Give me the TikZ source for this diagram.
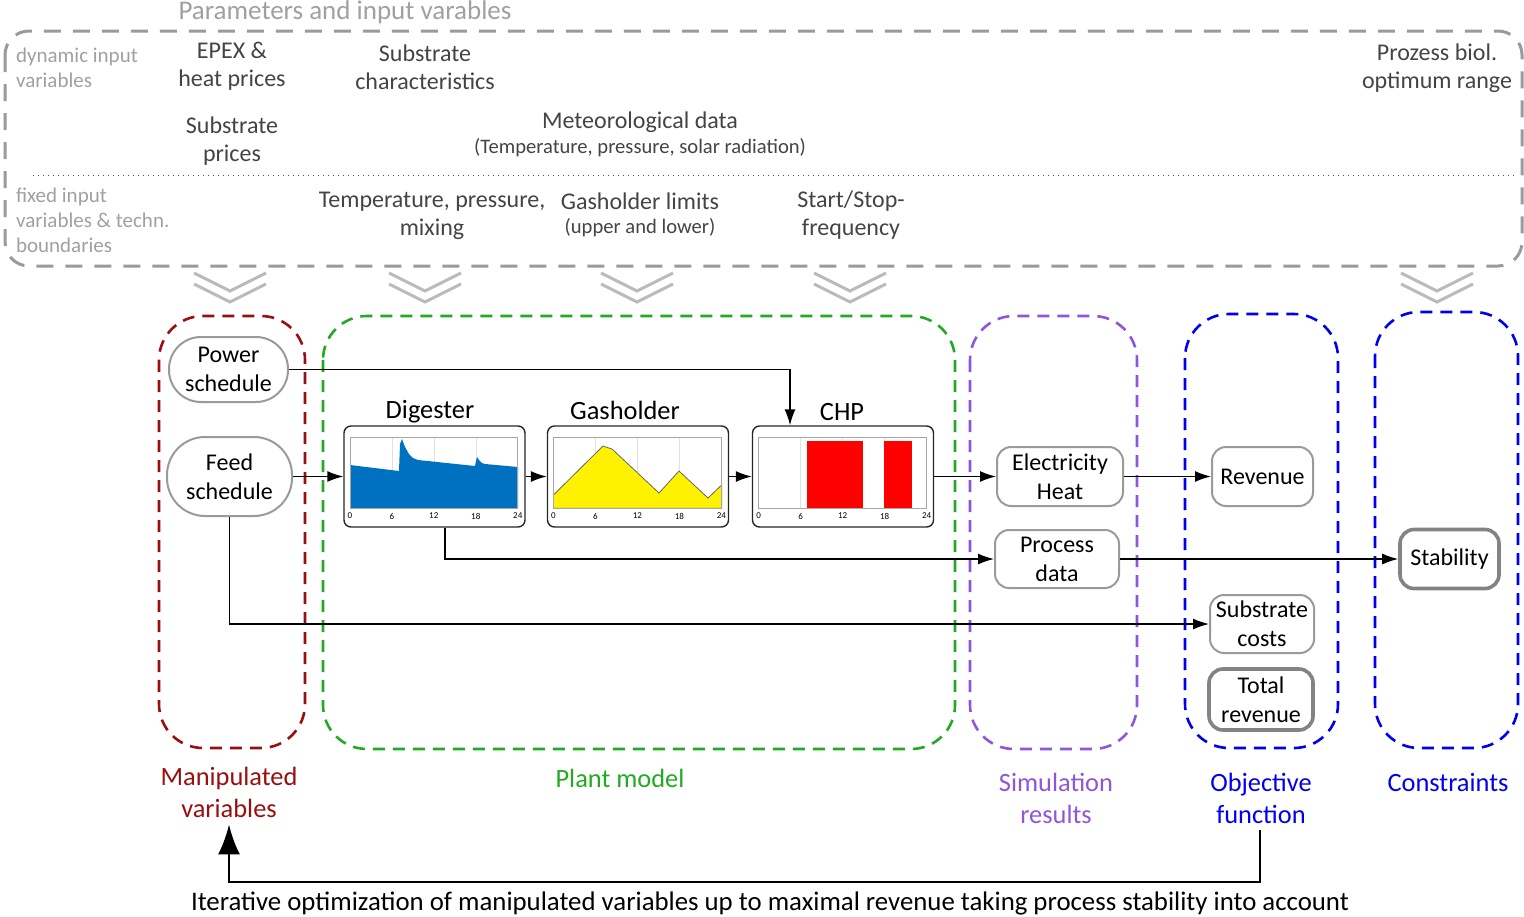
\documentclass[tikz,border=0pt]{standalone}
\usepackage{fontspec}
\setmainfont{Carlito}
\usepackage{tikz}
\usetikzlibrary{positioning, arrows.meta}

\definecolor{boxgray}{HTML}{9A9A9A}
\definecolor{txtgray}{HTML}{444444}
\definecolor{lightgray}{HTML}{A0A0A0}
\definecolor{chevgray}{HTML}{BBBBBB}
\definecolor{manipred}{HTML}{990F0F}
\definecolor{plantgreen}{HTML}{22AA22}
\definecolor{simpurple}{HTML}{8E55DD}
\definecolor{objblue}{HTML}{0000EE}
\definecolor{digblue}{HTML}{0070C0}

\newcommand\fnode{\fontsize{12}{14.5}\selectfont}
\newcommand\ftop{\fontsize{12}{14}\selectfont}
\newcommand\fside{\fontsize{10.5}{12.5}\selectfont}
\newcommand\fsub{\fontsize{10.3}{11}\selectfont}
\newcommand\fgroup{\fontsize{13.2}{16}\selectfont}
\newcommand\flabel{\fontsize{13.2}{14}\selectfont}
\newcommand\ftick{\fontsize{4.5}{5}\selectfont}

\begin{document}
\begin{tikzpicture}[x=0.5pt, y=-0.5pt,
  Arr/.style={-{Latex[length=8pt,width=5.5pt]}, line width=0.7pt},
  FB/.style={-{Latex[length=15pt,width=11pt]}, line width=1.4pt},
  Res/.style={draw=boxgray, line width=1pt, rounded corners=7pt, align=center,
    font=\fnode, inner sep=1pt},
  Pill/.style={Res, rounded corners=16pt},
  Chart/.style={draw=black!85, line width=0.7pt, rounded corners=3.5pt,
    minimum width=90.5pt, minimum height=50.5pt},
  Group/.style={dashed, line width=1.3pt, rounded corners=22pt,
    dash pattern=on 6pt off 4pt},
  Top/.style={text=txtgray, align=center, font=\ftop},
  Side/.style={text=lightgray, align=left, font=\fside, anchor=north west},
  chev/.style={chevgray, line width=1.5pt},
  frame/.style={draw=black!35, line width=0.3pt},
  grid/.style={draw=black!12, line width=0.3pt},
  tick/.style={font=\ftick, inner sep=0pt}]
  \useasboundingbox (0,0) rectangle (1524,916);

  % parameters and input variables
  \node[text=lightgray, font=\fontsize{13.5}{15}\selectfont] (partitle) at (345,12) {Parameters and input varables};
  \draw[boxgray, line width=1.5pt, dash pattern=on 8.5pt off 6pt, rounded corners=12pt]
    (5,31) rectangle (1522,266);
  \draw[dotted, black!70, line width=0.5pt] (33,175) -- (1517,175);
  \node[Side] (dyn) at (9,41) {dynamic input\\variables};
  \node[Side] (fix) at (9,181) {fixed input\\variables \& techn.\\boundaries};
  \node[Top] (epex) at (232,66) {EPEX \&\\heat prices};
  \node[Top] (subch) at (425,67) {Substrate\\characteristics};
  \node[Top] (subpr) at (232,141) {Substrate\\prices};
  \node[Top] (meteo) at (640,122) {Meteorological data};
  \node[Top, font=\fsub] (meteosub) at (640,148) {(Temperature, pressure, solar radiation)};
  \node[Top] (optrange) at (1437,68) {Prozess biol.\\optimum range};
  \node[Top] (tpm) at (432,216) {Temperature, pressure,\\mixing};
  \node[Top] (gaslim) at (640,201) {Gasholder limits};
  \node[Top, font=\fsub] (gaslimsub) at (640,228) {(upper and lower)};
  \node[Top] (startstop) at (851,215) {Start/Stop-\\frequency};

  % chevrons
  \foreach \cx in {230,425,637,850,1437} {
    \draw[chev] (\cx-36,273) -- (\cx,291) -- (\cx+36,273);
    \draw[chev] (\cx-36,284) -- (\cx,302) -- (\cx+36,284);
  }

  % groups
  \draw[Group, manipred] (159,316) rectangle (305,748);
  \draw[Group, plantgreen] (323,316) rectangle (955,749);
  \draw[Group, simpurple] (970,316) rectangle (1137,749);
  \draw[Group, objblue] (1185,314) rectangle (1338,748);
  \draw[Group, objblue] (1375,312) rectangle (1518,748);
  \node[text=manipred, font=\fgroup, align=center] (maniplab) at (229,792) {Manipulated\\variables};
  \node[text=plantgreen, font=\fgroup] (plantlab) at (620,778) {Plant model};
  \node[text=simpurple, font=\fgroup, align=center] (simlab) at (1056,798) {Simulation\\results};
  \node[text=objblue, font=\fgroup, align=center] (objlab) at (1261,798) {Objective\\function};
  \node[text=objblue, font=\fgroup] (conlab) at (1448,782) {Constraints};

  % nodes
  \node[Pill, minimum width=59.5pt, minimum height=32.5pt] (power) at (228.5,369.5) {Power\\schedule};
  \node[Pill, rounded corners=19pt, minimum width=62.5pt, minimum height=39.5pt] (feed) at (229.5,476.5) {Feed\\schedule};
  \node[Chart] (dig) at (434.5,476.5) {};
  \node[Chart] (gas) at (638,476.5) {};
  \node[Chart] (chp) at (843,476.5) {};
  \node[font=\flabel] (diglab) at (430,412) {Digester};
  \node[font=\flabel] (gaslab) at (625,410) {Gasholder};
  \node[font=\flabel] (chplab) at (842,412) {CHP};
  \node[Res, minimum width=63pt, minimum height=29.5pt] (elec) at (1060,476.5) {Electricity\\Heat};
  \node[Res, minimum width=62pt, minimum height=29pt] (proc) at (1057,559) {Process\\data};
  \node[Res, minimum width=50.5pt, minimum height=29.5pt] (rev) at (1262.5,476.5) {Revenue};
  \node[Res, line width=1.8pt, draw=boxgray!85!black, minimum width=49.5pt, minimum height=29.5pt] (stab) at (1449.5,559) {Stability};
  \node[Res, minimum width=52pt, minimum height=29pt] (subc) at (1262,624) {Substrate\\costs};
  \node[Res, line width=1.8pt, draw=boxgray!85!black, minimum width=52pt, minimum height=30.5pt] (totrev) at (1261,699.5) {Total\\revenue};

  % digester chart
  \foreach \t in {6,12,18} \draw[grid] (349.8+7*\t,437.7) -- (349.8+7*\t,508.3);
  \fill[digblue] (350,508) -- (350,465) -- (399,471) -- (400,444) -- (402,439) -- (405,447)
    -- (409,454) -- (413,458) -- (418,460) -- (475,466) -- (476,461) -- (477,457)
    -- (479,460) -- (482,463) -- (485,464) -- (518,467) -- (518,508) -- cycle;
  \draw[frame] (349.8,437.7) rectangle (517.7,508.3);
  % gasholder chart
  \foreach \t in {6,12,18} \draw[grid] (553.4+7*\t,437.7) -- (553.4+7*\t,508.3);
  \filldraw[fill=yellow, draw=black!60, line width=0.4pt] (553.4,508.3) -- (553.4,495) -- (603,446)
    -- (612,449) -- (659,493) -- (679,471) -- (708,498) -- (721.6,485) -- (721.6,508.3) -- cycle;
  \draw[frame] (553.4,437.7) rectangle (721.6,508.3);
  % chp chart
  \foreach \t in {6,12,18} \draw[grid] (758.6+7*\t,437.7) -- (758.6+7*\t,508.3);
  \fill[red] (807,441) rectangle (863,508.3);
  \fill[red] (884,441) rectangle (912,508.3);
  \draw[frame] (758.6,437.7) rectangle (926,508.3);
  \foreach \xo in {349.8,553.4,758.6} {
    \foreach \t in {0,6,12,18,24}
      \node[tick] at (\xo+7*\t,516) {\t};
  }

  % connectors
  \draw[Arr] (power.east) -| ([xshift=-26.5pt]chp.north);
  \draw[Arr] (feed) -- (dig);
  \draw[Arr] (dig) -- (gas);
  \draw[Arr] (gas) -- (chp);
  \draw[Arr] (chp) -- (elec);
  \draw[Arr] (elec) -- (rev);
  \draw[Arr] ([xshift=5.25pt]dig.south) |- (proc.west);
  \draw[Arr] (proc.east) -- (stab.west);
  \draw[Arr] (feed.south) |- (subc.west);

  % iteration loop
  \coordinate (fbcorner) at (1260,882);
  \draw[FB] (objlab.south -| fbcorner) -- (fbcorner) -| (maniplab.south);
  \node[font=\fontsize{13.4}{15}\selectfont] (iter) at (770,903)
    {Iterative optimization of manipulated variables up to maximal revenue taking process stability into account};
\end{tikzpicture}
\end{document}
